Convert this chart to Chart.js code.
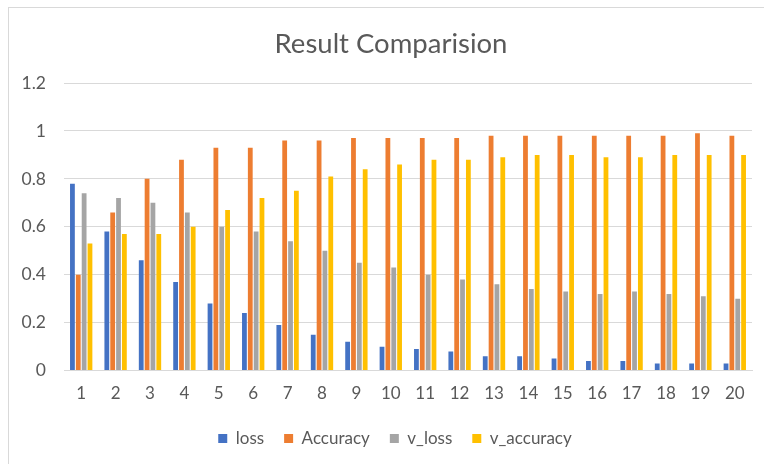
<!DOCTYPE html>
<html>
<head>
<meta charset="utf-8">
<script src="https://cdn.jsdelivr.net/npm/chart.js@4/dist/chart.umd.min.js"></script>
<style>
  html, body { margin: 0; padding: 0; background: #ffffff; }
  #wrap { width: 764px; height: 464px; position: relative; }
</style>
</head>
<body>
<div id="wrap"><canvas id="c" width="764" height="464"></canvas></div>
<script>
// Training history per epoch
const epochs = ['1','2','3','4','5','6','7','8','9','10','11','12','13','14','15','16','17','18','19','20'];
const loss      = [0.78,0.58,0.46,0.37,0.28,0.24,0.19,0.15,0.12,0.10,0.09,0.08,0.06,0.06,0.05,0.04,0.04,0.03,0.03,0.03];
const accuracy  = [0.40,0.66,0.80,0.88,0.93,0.93,0.96,0.96,0.97,0.97,0.97,0.97,0.98,0.98,0.98,0.98,0.98,0.98,0.99,0.98];
const vLoss     = [0.74,0.72,0.70,0.66,0.60,0.58,0.54,0.50,0.45,0.43,0.40,0.38,0.36,0.34,0.33,0.32,0.33,0.32,0.31,0.30];
const vAccuracy = [0.53,0.57,0.57,0.60,0.67,0.72,0.75,0.81,0.84,0.86,0.88,0.88,0.89,0.90,0.90,0.89,0.89,0.90,0.90,0.90];
const yTickLabels = ['0','0.2','0.4','0.6','0.8','1','1.2'];

const FONT = 'Lato, "Open Sans", sans-serif';
const TEXT = '#595959';

// Thin light frame around the chart; the frame continues past the right/bottom edges
const framePlugin = {
  id: 'frame',
  beforeDraw(chart) {
    const ctx = chart.ctx;
    ctx.save();
    ctx.fillStyle = '#ffffff';
    ctx.fillRect(0, 0, chart.width, chart.height);
    ctx.strokeStyle = '#d9d9d9';
    ctx.lineWidth = 1;
    ctx.strokeRect(8.5, 7.5, chart.width + 20, chart.height + 20);
    ctx.restore();
  }
};

// Center title and legend on the whole frame rather than the padded box
const centerPlugin = {
  id: 'centerOnFrame',
  afterLayout(chart) {
    if (chart.titleBlock) { chart.titleBlock.left = 30; chart.titleBlock.right = 752; }
    if (chart.legend) { chart.legend.left = 38; chart.legend.right = 752; chart.legend.top -= 7; }
  }
};

const series = [
  { label: 'loss',       data: loss,      color: '#4472C4' },
  { label: 'Accuracy',   data: accuracy,  color: '#ED7D31' },
  { label: 'v_loss',     data: vLoss,     color: '#A5A5A5' },
  { label: 'v_accuracy', data: vAccuracy, color: '#FFC000' }
];

new Chart(document.getElementById('c'), {
  type: 'bar',
  data: {
    labels: epochs,
    datasets: series.map(s => ({
      label: s.label,
      data: s.data,
      backgroundColor: s.color,
      borderWidth: 0,
      categoryPercentage: 0.68,
      barPercentage: 0.82
    }))
  },
  options: {
    responsive: false,
    animation: false,
    layout: { padding: { left: 0, right: 12, top: 0, bottom: 0 } },
    plugins: {
      title: {
        display: true,
        text: 'Result Comparision',
        color: TEXT,
        font: { family: FONT, size: 27.5, weight: 'normal' },
        padding: { top: 28, bottom: 22 }
      },
      legend: {
        position: 'bottom',
        labels: {
          color: TEXT,
          font: { family: FONT, size: 17 },
          boxWidth: 9,
          boxHeight: 9,
          padding: 20
        }
      },
      tooltip: { enabled: false }
    },
    scales: {
      x: {
        grid: { display: false, drawTicks: false },
        border: { display: true, color: '#d9d9d9' },
        ticks: { color: TEXT, font: { family: FONT, size: 17 }, padding: 13, maxRotation: 0, autoSkip: false }
      },
      y: {
        min: 0,
        max: 1.2,
        afterFit(scale) { scale.width = 64; },
        grid: { color: '#d9d9d9', drawTicks: false },
        border: { display: false },
        ticks: {
          stepSize: 0.2,
          padding: 18,
          color: TEXT,
          font: { family: FONT, size: 17.5 },
          callback: (v, i) => yTickLabels[i]
        }
      }
    }
  },
  plugins: [framePlugin, centerPlugin]
});
</script>
</body>
</html>
